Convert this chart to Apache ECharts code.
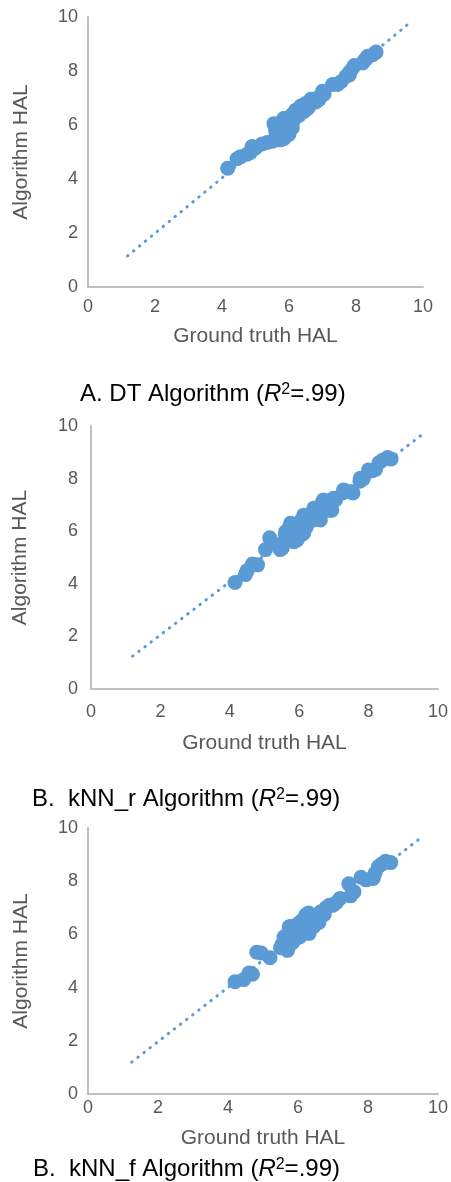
<!DOCTYPE html>
<html>
<head>
<meta charset="utf-8">
<script src="https://cdn.jsdelivr.net/npm/echarts@6/dist/echarts.min.js"></script>
<style>
html,body{margin:0;padding:0;background:#fff;}
#chart{width:451px;height:1182px;}
</style>
</head>
<body>
<div id="chart"></div>
<script>
// ---- data ----
const xTicks = [0, 2, 4, 6, 8, 10];
const captionA = 'A. DT Algorithm ';
const captionB = 'B.  kNN_r Algorithm ';
const captionC = 'B.  kNN_f Algorithm ';
const xName = 'Ground truth HAL';
const yName = 'Algorithm HAL';

const pointsDT = [
  [4.17,4.40],[4.45,4.75],[4.55,4.82],[4.75,4.92],[4.85,4.98],[4.9,5.2],[5.0,5.15],[5.2,5.3],
  [5.35,5.35],[5.5,5.4],[5.65,5.45],[5.7,5.6],[5.6,5.8],[5.7,5.95],[5.75,6.1],[5.8,5.75],
  [5.9,5.9],[5.95,5.72],[6.0,6.1],[6.05,6.3],[6.1,6.4],[6.15,6.2],[6.25,6.45],[6.3,6.35],
  [6.4,6.6],[6.45,6.5],[6.5,6.8],[6.6,6.7],[6.7,6.9],[6.8,6.85],[6.85,7.0],[6.95,7.1],
  [7.05,7.15],[7.3,7.5],[7.45,7.5],[7.55,7.6],[7.7,7.8],[7.8,7.95],[7.9,8.1],[7.95,8.2],
  [8.2,8.3],[8.3,8.45],[8.35,8.55],[8.5,8.6],[8.6,8.7],
  [5.55,6.05],[5.6,5.55],[5.75,5.45],[5.85,5.5],[5.65,6.0],[5.85,6.25],[6.0,5.65],[6.1,5.9],
  [6.2,6.55],[6.35,6.7],[6.55,6.6],[6.65,6.95],[6.9,6.95],[7.0,7.25],[7.8,7.85],[8.25,8.4]
];
const trendDT = [[1.18,1.15],[9.6,9.78]];

const pointsKr = [
  [4.15,4.05],[4.45,4.35],[4.5,4.5],[4.65,4.75],[4.8,4.72],[5.03,5.3],[5.15,5.75],[5.25,5.55],
  [5.45,5.3],[5.55,5.55],[5.6,5.85],[5.7,6.1],[5.75,5.7],[5.85,5.6],[5.9,6.0],[5.95,6.25],
  [6.05,5.85],[6.05,6.4],[6.15,6.3],[6.2,6.15],[6.3,6.55],[6.35,6.4],[6.45,6.45],[6.5,6.7],
  [6.6,6.9],[6.65,7.05],[6.7,6.75],[6.8,6.95],[6.9,6.8],[6.95,7.15],[7.05,7.2],[7.25,7.45],
  [7.45,7.5],[7.55,7.45],[7.75,7.9],[7.85,8.0],[8.1,8.3],[8.2,8.35],[8.3,8.6],[8.4,8.7],
  [8.55,8.8],[8.65,8.75],
  [5.51,5.35],[5.61,5.98],[5.75,6.3],[5.94,5.67],[6.13,5.92],[6.13,6.61],[6.42,6.87],[6.61,6.43],
  [6.7,7.19],[6.94,6.8],[6.99,7.25],[7.28,7.57],[7.52,7.5],[7.76,8.01],[8.0,8.33]
];
const trendKr = [[1.2,1.25],[9.57,9.7]];

const pointsKf = [
  [4.2,4.22],[4.45,4.3],[4.6,4.55],[4.7,4.5],[4.82,5.33],[4.95,5.3],[5.2,5.12],[5.5,5.5],
  [5.55,5.65],[5.6,5.9],[5.7,5.4],[5.7,6.0],[5.8,6.3],[5.85,5.7],[5.9,6.1],[6.0,6.4],
  [6.05,5.9],[6.15,6.1],[6.2,6.65],[6.3,6.05],[6.3,6.8],[6.4,6.5],[6.55,6.75],[6.6,6.45],
  [6.65,6.85],[6.8,7.0],[6.9,7.1],[7.0,7.1],[7.2,7.35],[7.45,7.9],[7.5,7.45],[7.6,7.6],
  [7.8,8.15],[7.95,8.05],[8.15,8.1],[8.2,8.3],[8.3,8.55],[8.4,8.65],[8.5,8.75],[8.65,8.7],
  [5.65,5.6],[5.75,5.75],[5.95,5.85],[6.1,6.5],[6.25,6.3],[6.45,6.3],[6.5,6.65],[6.75,6.75],
  [7.1,7.2],[5.66,5.91],[5.75,6.29],[6.22,6.73],[6.32,6.04]
];
const trendKf = [[1.25,1.2],[9.5,9.62]];

// ---- styling ----
const FONT = '"Liberation Sans", Arial, Helvetica, sans-serif';
const BLUE = '#5B9BD5';
const AXIS = '#BFBFBF';
const LABEL = '#595959';

const panels = [
  {grid:{left:88, top:17, width:335, height:270}, xm:11, ym:10, xg:39, yg:56, pts:pointsDT, tr:trendDT},
  {grid:{left:91, top:426, width:349, height:263}, xm:14, ym:13, xg:44, yg:60, pts:pointsKr, tr:trendKr},
  {grid:{left:88, top:828, width:352, height:266}, xm:5, ym:10, xg:34, yg:56, pts:pointsKf, tr:trendKf}
];

function axisCommon(name, margin, gap, rot) {
  return {
    type:'value', min:0, max:10, interval:2,
    name:name, nameLocation:'middle', nameGap:gap, nameRotate:rot,
    nameTextStyle:{fontSize:21, color:LABEL, fontFamily:FONT},
    axisLine:{show:true, lineStyle:{color:AXIS, width:2}},
    axisTick:{show:false},
    splitLine:{show:false},
    axisLabel:{fontSize:18, color:LABEL, fontFamily:FONT, margin:margin}
  };
}

const grids = [], xAxes = [], yAxes = [], series = [];
panels.forEach((p, i) => {
  grids.push(p.grid);
  const xa = axisCommon(xName, p.xm, p.xg, 0); xa.gridIndex = i;
  const ya = axisCommon(yName, p.ym, p.yg, 90); ya.gridIndex = i;
  xAxes.push(xa); yAxes.push(ya);
  series.push({
    type:'line', xAxisIndex:i, yAxisIndex:i, data:p.tr, showSymbol:false, symbol:'none',
    silent:true, z:1,
    lineStyle:{color:BLUE, width:3, type:[0.5, 7.2], cap:'round'}
  });
  series.push({
    type:'scatter', xAxisIndex:i, yAxisIndex:i, data:p.pts, symbolSize:15, z:2,
    itemStyle:{color:BLUE, opacity:1}
  });
});

const rich = {
  i:{fontSize:24, fontStyle:'italic', color:'#000', fontFamily:FONT},
  sup:{fontSize:16, color:'#000', fontFamily:FONT, verticalAlign:'top'},
  n:{fontSize:24, color:'#000', fontFamily:FONT}
};
function caption(txt, left, top) {
  return {
    text:'{n|' + txt + '(}{i|R}{sup|2}{n|=.99)}',
    left:left, top:top, padding:0,
    textStyle:{fontSize:24, color:'#000', fontFamily:FONT, fontWeight:'normal', rich:rich}
  };
}

const chart = echarts.init(document.getElementById('chart'), null, {renderer:'canvas'});
chart.setOption({
  backgroundColor:'#fff',
  animation:false,
  title:[
    caption(captionA, 80, 382),
    caption(captionB, 32, 787),
    caption(captionC, 33, 1157)
  ],
  grid:grids, xAxis:xAxes, yAxis:yAxes, series:series
});
</script>
</body>
</html>
